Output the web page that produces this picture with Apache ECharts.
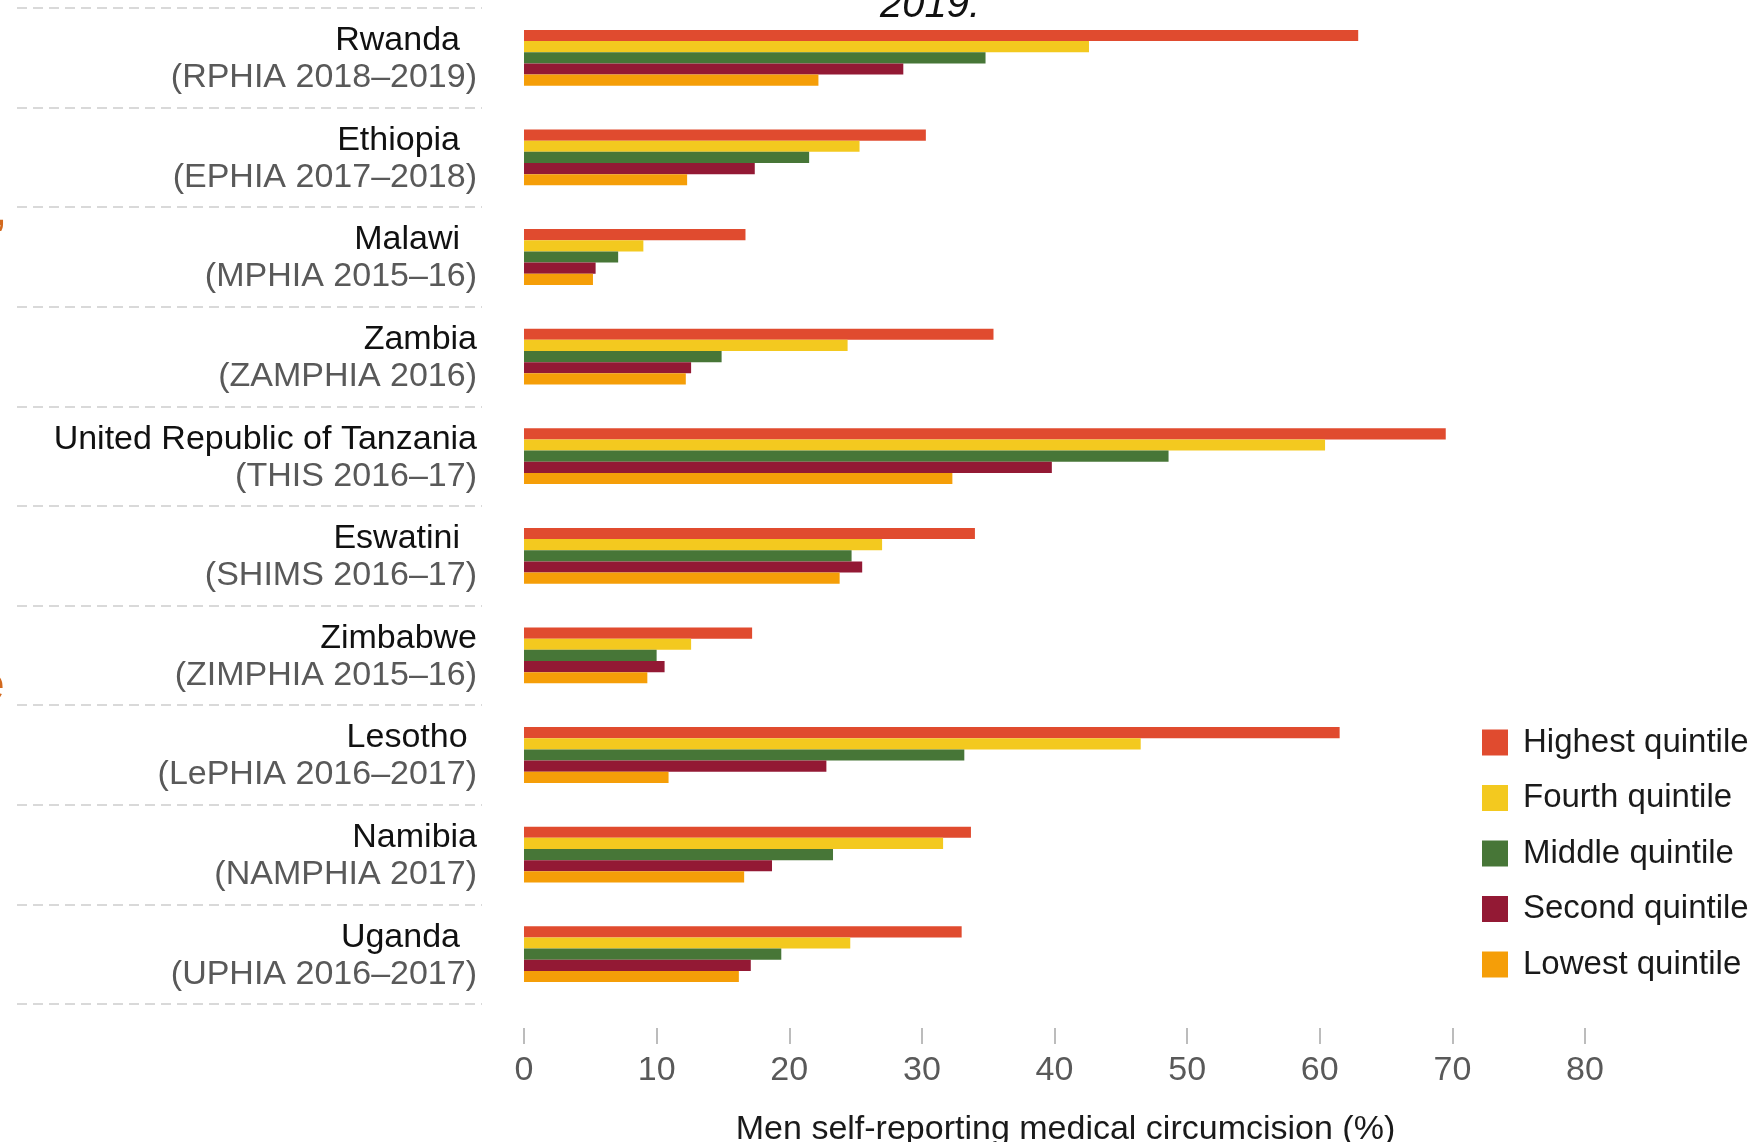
<!DOCTYPE html>
<html><head><meta charset="utf-8">
<script src="https://cdn.jsdelivr.net/npm/echarts@6/dist/echarts.min.js"></script>
<style>html,body{margin:0;padding:0;background:#fff;overflow:hidden}#c{width:1757px;height:1142px}</style>
</head><body><div id="c"></div>
<script>
// ---- data ----
const countries = ['Rwanda\u2002', 'Ethiopia\u2002', 'Malawi\u2002', 'Zambia', 'United Republic of Tanzania', 'Eswatini\u2002', 'Zimbabwe', 'Lesotho ', 'Namibia', 'Uganda\u2002'];
const surveys = ['(RPHIA 2018–2019)', '(EPHIA 2017–2018)', '(MPHIA 2015–16)', '(ZAMPHIA 2016)', '(THIS 2016–17)', '(SHIMS 2016–17)', '(ZIMPHIA 2015–16)', '(LePHIA 2016–2017)', '(NAMPHIA 2017)', '(UPHIA 2016–2017)'];
const seriesNames = ['Highest quintile', 'Fourth quintile', 'Middle quintile', 'Second quintile', 'Lowest quintile'];
const highest = [62.9, 30.3, 16.7, 35.4, 69.5, 34.0, 17.2, 61.5, 33.7, 33.0];
const fourth  = [42.6, 25.3, 9.0, 24.4, 60.4, 27.0, 12.6, 46.5, 31.6, 24.6];
const middle  = [34.8, 21.5, 7.1, 14.9, 48.6, 24.7, 10.0, 33.2, 23.3, 19.4];
const second  = [28.6, 17.4, 5.4, 12.6, 39.8, 25.5, 10.6, 22.8, 18.7, 17.1];
const lowest  = [22.2, 12.3, 5.2, 12.2, 32.3, 23.8, 9.3, 10.9, 16.6, 16.2];
const xTicks = [0, 10, 20, 30, 40, 50, 60, 70, 80];
const axisTitle = 'Men self-reporting medical circumcision (%)';

const colors = ['#E04B2F', '#F3C91F', '#477637', '#931934', '#F59E08'];
const values = [highest, fourth, middle, second, lowest];
const FONT = 'Liberation Sans, Arial, sans-serif';

const chart = echarts.init(document.getElementById('c'), null, {renderer: 'canvas'});
const series = seriesNames.map((n, k) => ({
  name: n, type: 'bar', xAxisIndex: 0, yAxisIndex: 0,
  data: values[k], barGap: '0%', barCategoryGap: '44%',
  itemStyle: {color: colors[k]}, silent: true
}));
series.push({name: '_sep', type: 'bar', xAxisIndex: 1, yAxisIndex: 1, data: [], silent: true});

chart.setOption({
  animation: false,
  backgroundColor: '#fff',
  textStyle: {fontFamily: FONT},
  color: colors,
  grid: [
    {left: 524, right: 172, top: 8, height: 996, containLabel: false, outerBoundsMode: 'none'},
    {left: 17, width: 465, top: 8, height: 996, containLabel: false, outerBoundsMode: 'none'}
  ],
  xAxis: [
    {gridIndex: 0, type: 'value', min: xTicks[0], max: xTicks[xTicks.length - 1], interval: 10,
     offset: 24,
     axisLine: {show: false},
     axisTick: {show: true, length: 16, lineStyle: {color: '#a6a6a6', width: 1.5}},
     axisLabel: {margin: 25.5, fontSize: 34, color: '#595959', fontFamily: FONT},
     splitLine: {show: false},
     name: axisTitle, nameLocation: 'middle', nameGap: 85,
     nameTextStyle: {fontSize: 34, color: '#1a1a1a', fontFamily: FONT, padding: [0, 0, 0, 22]}},
    {gridIndex: 1, type: 'value', show: false, min: 0, max: 1}
  ],
  yAxis: [
    {gridIndex: 0, type: 'category', data: countries, inverse: true,
     axisLine: {show: false}, axisTick: {show: false}, splitLine: {show: false},
     axisLabel: {margin: 47, align: 'right', padding: [3, 0, 0, 0],
       formatter: (v, i) => '{a|' + v + '}\n{b|' + surveys[i] + '}',
       rich: {
         a: {fontSize: 34, color: '#111111', lineHeight: 37, align: 'right', fontFamily: FONT},
         b: {fontSize: 34, color: '#595959', lineHeight: 37, align: 'right', fontFamily: FONT}
       }}},
    {gridIndex: 1, type: 'category', data: countries, inverse: true,
     axisLine: {show: false}, axisTick: {show: false}, axisLabel: {show: false},
     splitLine: {show: true, lineStyle: {color: '#d9d9d9', type: [10, 6], width: 2}}}
  ],
  legend: {
    orient: 'vertical', left: 1477, top: 721,
    itemWidth: 26, itemHeight: 26, itemGap: 22.5, icon: 'rect',
    data: seriesNames,
    textStyle: {fontSize: 33, color: '#1a1a1a', padding: [0, 0, 0, 10], lineHeight: 26, fontFamily: FONT}
  },
  graphic: [
    {type: 'text', left: 880, top: -14, silent: true,
     style: {text: '2019.', fontSize: 40, fontStyle: 'italic', fill: '#111', fontFamily: 'Liberation Sans, sans-serif'}},
    {type: 'text', left: -22, top: 663, silent: true,
     style: {text: 'e', fontSize: 48, fill: '#D2691E', fontFamily: FONT}},
    {type: 'text', left: -6, top: 188, silent: true,
     style: {text: ',', fontSize: 48, fill: '#D2691E', fontFamily: FONT}}
  ],
  series: series
});
</script></body></html>
